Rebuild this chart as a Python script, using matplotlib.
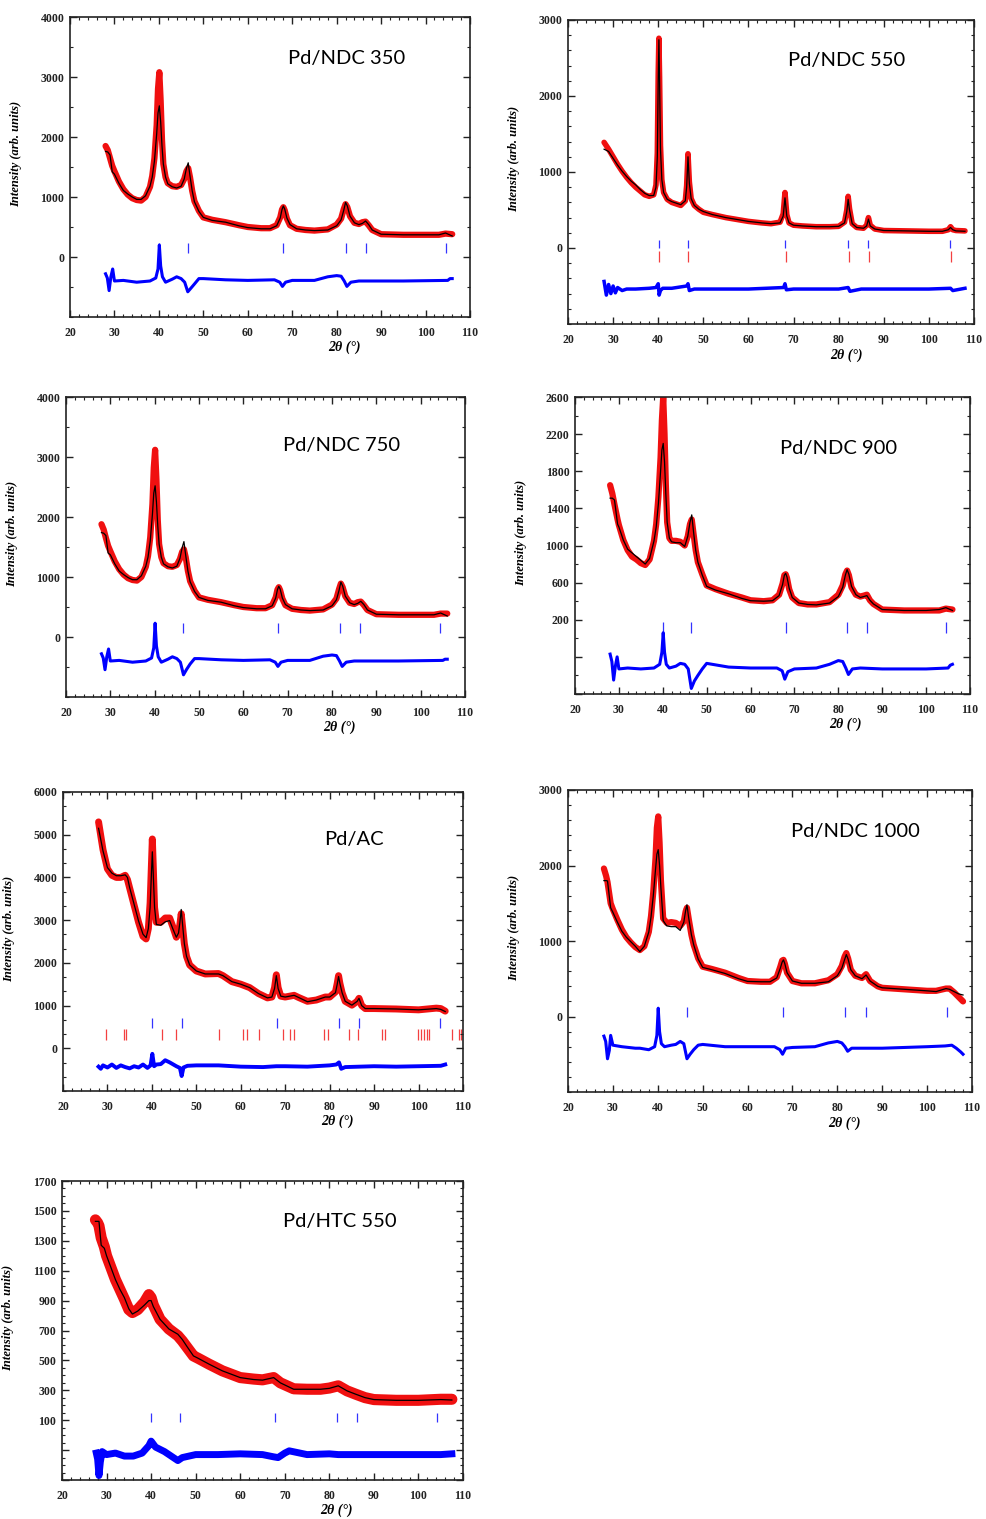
import matplotlib
matplotlib.use('Agg')
import matplotlib.pyplot as plt
from matplotlib.ticker import AutoMinorLocator, MultipleLocator, FuncFormatter

W, H = 986, 1519

# ---- Pd/NDC 350 ----
tt1 = [28, 28.5, 29, 29.5, 30, 31, 32, 33, 34, 35, 36, 37, 38, 38.5, 39, 39.5, 39.8, 40.1, 40.4, 40.7,
       41, 41.5, 42, 43, 44, 45, 45.7, 46.2, 46.6, 47, 47.5, 48, 49, 50, 52, 55, 58, 60, 63, 65,
       66.5, 67.3, 67.7, 68, 68.3, 68.8, 69.5, 71, 73, 75, 78, 80, 81, 81.6, 82, 82.4, 83, 84, 85, 85.8,
       86.5, 87.2, 88, 90, 95, 100, 103, 104.5, 106]
calc1 = [1760, 1750, 1700, 1420, 1380, 1230, 1110, 1050, 1000, 960, 960, 1020, 1180, 1330, 1600,
         2050, 2400, 2520, 2250, 1850, 1550, 1330, 1220, 1170, 1150, 1180, 1300, 1480, 1570, 1350,
         1100, 920, 760, 660, 610, 580, 520, 490, 470, 470, 520, 650, 790, 850, 800, 650, 540, 470, 450, 440,
         450, 520, 620, 780, 910, 850, 680, 570, 540, 560, 600, 540, 450, 380, 370, 370, 370, 400, 350]
obs1 = [1850, 1780, 1650, 1520, 1430, 1260, 1130, 1040, 980, 950, 940, 1000, 1170, 1350, 1650,
        2200, 2800, 3080, 2600, 1950, 1550, 1330, 1230, 1180, 1170, 1200, 1300, 1430, 1480, 1330,
        1100, 930, 770, 660, 620, 580, 530, 500, 480, 480, 530, 660, 790, 830, 780, 640, 530, 470, 450, 440,
        460, 540, 640, 800, 880, 830, 680, 570, 550, 580, 590, 530, 450, 380, 370, 370, 370, 390, 380]
dtt1 = [28, 28.4, 28.8, 29.2, 29.6, 30, 32, 35, 38, 39.3, 39.8, 40.1, 40.4, 40.8, 41.5, 43, 44, 45, 45.8, 46.5,
        47.2, 48, 49, 50, 55, 60, 66, 67.2, 67.8, 68.5, 70, 75, 78, 80, 81, 81.7, 82.3, 83.2, 85, 90,
        95, 100, 105, 105.5, 106]
diff1 = [-280, -350, -560, -330, -200, -400, -390, -420, -400, -350, -200, 200, -150, -330, -420,
         -370, -330, -360, -420, -580, -520, -450, -360, -360, -380, -390, -380, -420, -490, -420,
         -390, -390, -330, -310, -320, -400, -490, -420, -400, -400, -400, -395, -390, -360, -360]
bragg1 = [40.1, 46.5, 67.9, 82.0, 86.5, 104.5]

# ---- Pd/NDC 550 ----
tt2 = [28, 29, 30, 31, 32, 33, 34, 35, 36, 37, 38, 39, 39.5, 39.8, 40.0, 40.15, 40.3, 40.5, 40.8, 41.2,
       42, 43, 44, 45, 46, 46.3, 46.6, 46.9, 47.3, 48, 49, 50, 52, 55, 58, 60, 63, 65, 67, 67.7,
       68.1, 68.5, 69, 70, 72, 75, 78, 80, 81.3, 81.8, 82.1, 82.4, 83, 84, 85.5, 86.2, 86.6, 87, 88, 90,
       95, 100, 103, 104.3, 104.8, 105.3, 106, 108]
calc2 = [1300, 1270, 1180, 1090, 1010, 940, 880, 830, 770, 720, 690, 690, 800, 1200, 2200,
         2740, 2200, 1300, 900, 730, 640, 610, 590, 570, 620, 800, 1200, 850, 650, 560,
         510, 480, 440, 400, 370, 350, 330, 320, 330, 420, 660, 420, 330, 300, 290,
         280, 280, 285, 330, 480, 640, 500, 320, 270, 260, 290, 380, 290, 250, 230,
         225, 220, 220, 240, 270, 240, 225, 220]
obs2 = [1390, 1300, 1200, 1100, 1010, 930, 860, 800, 750, 700, 680, 700, 830, 1250, 2300,
        2760, 2250, 1350, 900, 730, 640, 600, 580, 560, 620, 820, 1240, 870, 650, 560,
        510, 470, 440, 400, 370, 350, 330, 320, 340, 450, 730, 440, 330, 300, 290,
        280, 280, 285, 340, 500, 680, 520, 320, 270, 260, 300, 400, 300, 250, 230,
        225, 220, 220, 240, 280, 240, 230, 225]
dtt2 = [28, 28.5, 29, 29.5, 30, 30.5, 31, 32, 33, 35, 38, 39.5, 40.0, 40.2, 40.5, 41, 43, 46.3, 46.6, 46.9,
        48, 50, 55, 60, 67.8, 68.1, 68.4, 70, 75, 80, 82.1, 82.5, 85, 90, 95, 100, 104.8, 105.3, 108]
diff2 = [-440, -620, -480, -600, -500, -590, -520, -560, -540, -540, -530, -520, -470, -620, -560,
         -530, -530, -500, -470, -560, -540, -540, -540, -540, -520, -470, -550, -540, -540, -540,
         -520, -570, -540, -540, -540, -540, -530, -560, -530]
bragg2 = [40.1, 46.7, 68.2, 82.1, 86.6, 104.7]
bragg2b = [40.2, 46.7, 68.3, 82.3, 86.8, 105.0]

# ---- Pd/NDC 750 ----
tt3 = list(tt1)
calc3 = [1740, 1730, 1690, 1400, 1370, 1220, 1100, 1040, 990, 955, 955, 1020, 1180, 1330, 1600,
         2050, 2400, 2520, 2250, 1850, 1550, 1330, 1220, 1170, 1150, 1180, 1310, 1490, 1590, 1360,
         1100, 920, 760, 660, 610, 580, 520, 490, 470, 470, 520, 650, 790, 845, 800, 650, 540, 470, 450, 440,
         450, 520, 620, 780, 915, 850, 680, 570, 540, 560, 595, 540, 450, 380, 370, 370, 370, 400, 350]
obs3 = [1880, 1790, 1650, 1520, 1430, 1260, 1130, 1040, 980, 950, 940, 1000, 1170, 1350, 1660,
        2220, 2820, 3120, 2620, 1950, 1550, 1330, 1230, 1180, 1170, 1200, 1300, 1420, 1460, 1330,
        1100, 930, 770, 660, 620, 580, 530, 500, 480, 480, 530, 660, 790, 830, 780, 640, 530, 470, 450, 440,
        460, 540, 640, 800, 890, 830, 680, 570, 550, 580, 590, 530, 450, 380, 370, 370, 370, 390, 390]
dtt3 = list(dtt1)
diff3 = [-280, -350, -545, -330, -200, -400, -390, -420, -400, -350, -180, 230, -150, -330, -420,
         -370, -330, -360, -420, -630, -540, -450, -360, -360, -380, -390, -380, -420, -490, -420,
         -390, -390, -320, -300, -310, -400, -490, -420, -400, -400, -400, -395, -390, -370, -370]
bragg3 = [40.0, 46.5, 67.9, 81.9, 86.4, 104.4]

# ---- Pd/NDC 900 ----
tt4 = [28, 28.5, 29, 29.7, 30, 31, 32, 33, 34, 35, 36, 37, 38, 38.5, 39, 39.5, 39.8, 40.1, 40.4, 40.7,
       41, 41.5, 42, 43, 44, 45, 45.7, 46.2, 46.6, 47, 47.5, 48, 49, 50, 52, 55, 58, 60, 63, 65,
       66.5, 67.3, 67.7, 68, 68.3, 68.8, 69.5, 71, 73, 75, 78, 80, 81, 81.6, 82, 82.4, 83, 84, 85, 85.8,
       86.5, 87.2, 88, 90, 95, 100, 103, 104.5, 106]
calc4 = [1510, 1510, 1490, 1230, 1200, 1060, 960, 920, 880, 840, 800, 860, 1050, 1200, 1450,
         1800, 2030, 2100, 1900, 1550, 1250, 1080, 1040, 1030, 1030, 990, 1100, 1250, 1330, 1150,
         950, 820, 680, 560, 520, 480, 430, 405, 400, 405, 460, 580, 680, 700, 660, 540, 440, 380, 365, 360,
         380, 450, 550, 680, 740, 690, 560, 470, 440, 450, 460, 410, 370, 310, 300, 300, 310, 330, 300]
obs4 = [1650, 1560, 1440, 1280, 1220, 1060, 950, 880, 850, 810, 790, 850, 1050, 1230, 1520,
        1950, 2350, 2600, 2200, 1650, 1250, 1080, 1050, 1050, 1040, 1000, 1100, 1230, 1280, 1130,
        950, 820, 690, 570, 530, 480, 440, 410, 400, 410, 470, 590, 680, 690, 650, 530, 440, 380, 365, 365,
        390, 470, 570, 690, 730, 680, 550, 470, 450, 460, 470, 410, 370, 310, 300, 300, 300, 320, 310]
dtt4 = list(dtt1)
diff4 = [-170, -250, -450, -300, -200, -330, -320, -330, -320, -280, -150, 60, -150, -280, -320,
         -300, -270, -280, -330, -540, -460, -400, -330, -270, -310, -320, -320, -350, -440, -360,
         -330, -320, -280, -240, -250, -320, -390, -330, -320, -330, -330, -330, -320, -290, -280]
bragg4 = [40.0, 46.5, 68.0, 82.0, 86.5, 104.5]

# ---- Pd/AC ----
tt5 = [28, 29, 30, 31, 32, 33, 34, 34.5, 35, 36, 37, 38, 38.7, 39.2, 39.6, 39.9, 40.1, 40.3, 40.6, 41,
       42, 43, 44, 44.7, 45.5, 46, 46.3, 46.6, 46.9, 47.3, 47.8, 48.5, 50, 52, 55, 56, 58, 60, 62, 64,
       66, 67, 67.6, 68.0, 68.4, 69, 70, 72, 73, 75, 77, 79, 80, 81.3, 81.7, 82.0, 82.3, 82.8, 83.5, 85,
       86.2, 86.6, 87.2, 88, 90, 95, 100, 104, 105, 106]
calc5 = [5150, 4620, 4230, 4100, 4040, 4040, 4060, 4000, 3760, 3370, 2980, 2670, 2590, 2800, 3300,
         4100, 4600, 4100, 3300, 2900, 2880, 2960, 2990, 2800, 2600, 2700, 2950, 3250, 2900, 2450,
         2150, 1950, 1810, 1740, 1740, 1700, 1560, 1500, 1420, 1280, 1180, 1200, 1400, 1700, 1400,
         1220, 1200, 1240, 1190, 1090, 1130, 1200, 1200, 1300, 1500, 1680, 1520, 1300, 1100, 1010,
         1100, 1170, 1000, 930, 930, 920, 900, 930, 910, 860]
obs5 = [5300, 4650, 4200, 4050, 4000, 4000, 4050, 3950, 3750, 3350, 2950, 2620, 2560, 2800, 3400,
        4300, 4900, 4300, 3300, 2950, 2950, 3050, 3050, 2850, 2600, 2700, 2900, 3150, 2850, 2450,
        2150, 1950, 1810, 1740, 1750, 1700, 1560, 1500, 1420, 1280, 1180, 1200, 1420, 1720, 1420,
        1220, 1200, 1240, 1190, 1100, 1130, 1200, 1200, 1320, 1520, 1700, 1520, 1300, 1100, 1010,
        1100, 1170, 1000, 930, 930, 920, 900, 940, 930, 870]
dtt5 = [28, 28.5, 29, 30, 31, 32, 33, 34, 35, 36, 37, 38, 39, 39.7, 40.1, 40.5, 41, 42, 43, 44,
        45.5, 46.3, 46.7, 47.1, 48, 50, 55, 60, 65, 68, 70, 75, 80, 81.5, 82.1, 82.6, 83.5, 90, 95, 100,
        105, 106]
diff5 = [-430, -480, -400, -450, -380, -460, -400, -440, -470, -420, -450, -380, -460, -400, -130,
         -420, -380, -370, -280, -330, -420, -460, -650, -450, -410, -400, -400, -430, -440, -420,
         -420, -430, -400, -380, -330, -480, -440, -420, -430, -420, -410, -380]
bragg5 = [40.1, 46.7, 68.2, 82.2, 86.7, 104.9]
bragg5b = [29.6, 33.7, 34.1, 42.3, 45.4, 55.2, 60.6, 61.4, 64.1, 69.6, 71.0, 72.0, 78.8, 79.7,
           84.3, 86.3, 91.8, 92.4, 99.9, 100.5, 101.2, 101.8, 102.4, 107.6, 109.1, 109.6]

# ---- Pd/NDC 1000 ----
tt6 = [28, 28.5, 28.8, 29.5, 30, 31, 32, 33, 34, 35, 36, 37, 38, 38.5, 39, 39.5, 39.8, 40.1, 40.4, 40.7,
       41.2, 42, 43, 44, 45, 45.8, 46.2, 46.5, 46.9, 47.5, 48, 49, 50, 52, 55, 58, 60, 63, 65, 66.5,
       67.3, 67.7, 68, 68.3, 68.8, 70, 72, 75, 78, 80, 81, 81.6, 82, 82.4, 83, 84, 85.5, 86.4, 87.3, 89,
       90, 95, 100, 102, 104.2, 105, 106, 107, 108]
calc6 = [1800, 1800, 1795, 1440, 1380, 1250, 1130, 1050, 990, 930, 860, 930, 1120, 1320, 1600,
         1950, 2150, 2210, 2000, 1700, 1270, 1200, 1190, 1190, 1140, 1250, 1400, 1480, 1300, 1080,
         950, 760, 650, 620, 570, 500, 465, 460, 460, 510, 640, 720, 750, 700, 580,
         470, 440, 440, 460, 540, 640, 750, 820, 760, 620, 540, 500, 550, 470, 400,
         380, 360, 340, 330, 370, 360, 330, 300, 285]
obs6 = [1960, 1860, 1780, 1500, 1420, 1280, 1150, 1050, 980, 920, 880, 930, 1120, 1330, 1650,
        2100, 2500, 2650, 2300, 1800, 1300, 1240, 1250, 1240, 1200, 1260, 1390, 1440, 1290, 1080,
        950, 770, 660, 630, 580, 510, 470, 460, 460, 520, 660, 740, 750, 700, 580,
        470, 440, 440, 480, 560, 670, 790, 840, 770, 620, 540, 510, 560, 470, 400,
        380, 360, 340, 340, 370, 370, 320, 260, 200]
dtt6 = [28, 28.4, 28.8, 29.2, 29.5, 30, 32, 35, 36, 38, 39.3, 39.8, 40.1, 40.4, 40.8, 41.5, 43, 44, 45, 45.8,
        46.5, 47.2, 48, 49, 50, 55, 60, 66, 67.2, 67.8, 68.5, 70, 75, 78, 80, 81, 81.7, 82.3, 83.2, 85,
        90, 95, 100, 104, 105.5, 106.5, 107.5, 108]
diff6 = [-260, -330, -560, -450, -250, -380, -400, -420, -420, -440, -400, -250, 110, -200, -360,
         -400, -380, -370, -330, -360, -560, -500, -440, -380, -370, -400, -400, -400, -440, -500,
         -420, -410, -400, -350, -330, -350, -400, -460, -420, -420, -420, -410, -400, -390, -380,
         -420, -470, -500]
bragg6 = [40.0, 46.6, 67.9, 81.8, 86.4, 104.4]

# ---- Pd/HTC 550 ----
tt7 = [27.5, 28, 28.3, 28.8, 29.5, 30, 31, 32, 33, 34, 35, 35.8, 37, 38.5, 39.5, 40, 40.5, 42, 44, 46,
       47, 48, 49.5, 50.5, 53, 56, 60, 63, 65, 67.5, 69, 72, 75, 78, 80, 82, 84, 86, 88, 90,
       95, 100, 105, 107.5]
calc7 = [1430, 1430, 1430, 1270, 1250, 1200, 1120, 1040, 975, 920, 845, 810, 830, 870, 900,
         900, 860, 775, 710, 675, 640, 595, 530, 515, 475, 430, 385, 372, 368, 385,
         350, 307, 307, 307, 313, 330, 296, 273, 251, 238, 233, 233, 238, 235]
obs7 = [1440, 1420, 1400, 1320, 1260, 1200, 1120, 1040, 975, 910, 840, 820, 840, 890, 940,
        920, 870, 775, 710, 665, 630, 590, 530, 515, 475, 430, 385, 375, 370, 385,
        350, 310, 307, 307, 315, 330, 296, 273, 251, 238, 233, 233, 240, 240]
dtt7 = [27.7, 28, 28.3, 28.6, 29, 30, 32, 34, 36, 38, 39.5, 40, 41, 43, 45, 46, 47, 50, 55, 60,
        65, 67.5, 68.5, 70, 71, 75, 80, 82, 85, 90, 95, 100, 105, 107.5]
diff7 = [-120, -160, -270, -180, -110, -130, -120, -140, -140, -120, -70, -40, -80, -110, -150,
         -170, -150, -130, -130, -125, -130, -145, -150, -120, -105, -130, -125, -130, -130, -130,
         -130, -130, -130, -125]
bragg7 = [40.0, 46.5, 67.8, 81.8, 86.2, 104.1]

RED = '#f01010'
BLUE = '#0000ff'
SERIF = 'Liberation Serif'

plt.rcParams['font.family'] = [SERIF, 'DejaVu Serif']
plt.rcParams['font.weight'] = 'bold'

panels = [
    dict(box=(70, 17, 470, 317), title='Pd/NDC 350', tpos=(0.545, 0.863), ylim=(-1000, 4000),
         yticks=range(0, 4001, 1000), minor=2, lab_min=0, tt=tt1, obs=obs1, calc=calc1, dtt=dtt1, diff=diff1,
         bragg=[(bragg1, 60, 240, BLUE)], olw=4.5, dlw=2.2),
    dict(box=(568, 20, 974, 324), title='Pd/NDC 550', tpos=(0.542, 0.868), ylim=(-1000, 3000),
         yticks=range(0, 3001, 1000), minor=5, lab_min=0, tt=tt2, obs=obs2, calc=calc2, dtt=dtt2, diff=diff2,
         bragg=[(bragg2, 0, 110, BLUE), (bragg2b, -180, -40, RED)], olw=4.0, dlw=2.5),
    dict(box=(66, 397, 465, 697), title='Pd/NDC 750', tpos=(0.544, 0.837), ylim=(-1000, 4000),
         yticks=range(0, 4001, 1000), minor=2, lab_min=0, tt=tt3, obs=obs3, calc=calc3, dtt=dtt3, diff=diff3,
         bragg=[(bragg3, 60, 240, BLUE)], olw=4.5, dlw=2.2),
    dict(box=(575, 397, 970, 694), title='Pd/NDC 900', tpos=(0.519, 0.825), ylim=(-600, 2600),
         yticks=range(-600, 2601, 400), minor=2, lab_min=200, tt=tt4, obs=obs4, calc=calc4, dtt=dtt4, diff=diff4,
         bragg=[(bragg4, 60, 180, BLUE)], olw=4.5, dlw=2.2),
    dict(box=(63, 792, 463, 1091), title='Pd/AC', tpos=(0.653, 0.84), ylim=(-1000, 6000),
         yticks=range(0, 6001, 1000), minor=3, lab_min=0, tt=tt5, obs=obs5, calc=calc5, dtt=dtt5, diff=diff5,
         bragg=[(bragg5, 480, 700, BLUE), (bragg5b, 200, 440, RED)], olw=5.0, dlw=2.8),
    dict(box=(568, 790, 972, 1092), title='Pd/NDC 1000', tpos=(0.552, 0.864), ylim=(-1000, 3000),
         yticks=range(0, 3001, 1000), minor=5, lab_min=0, tt=tt6, obs=obs6, calc=calc6, dtt=dtt6, diff=diff6,
         bragg=[(bragg6, 0, 120, BLUE)], olw=4.5, dlw=2.2),
    dict(box=(62, 1181, 463, 1480), title='Pd/HTC 550', tpos=(0.551, 0.866), ylim=(-300, 1700),
         yticks=range(-300, 1701, 200), minor=4, lab_min=100, tt=tt7, obs=obs7, calc=calc7, dtt=dtt7, diff=diff7,
         bragg=[(bragg7, 85, 150, BLUE)], olw=8.0, dlw=5.0),
]


def draw(fig, p):
    l, t, r, b = p['box']
    ax = fig.add_axes([l / W, 1 - b / H, (r - l) / W, (b - t) / H])
    ax.plot(p['tt'], p['obs'], color=RED, lw=p['olw'], solid_joinstyle='round', solid_capstyle='round', zorder=2)
    ax.plot(p['tt'], p['calc'], color='black', lw=0.9, zorder=3)
    ax.plot(p['dtt'], p['diff'], color=BLUE, lw=p['dlw'], zorder=2)
    for pos, y0, y1, c in p['bragg']:
        ax.vlines(pos, y0, y1, colors=c, lw=0.9, alpha=0.8, zorder=1)
    ax.set_xlim(20, 110)
    ax.set_ylim(*p['ylim'])
    ax.set_xticks(range(20, 111, 10))
    ax.xaxis.set_minor_locator(MultipleLocator(2))
    ax.set_yticks(list(p['yticks']))
    ax.yaxis.set_minor_locator(AutoMinorLocator(p['minor']))
    lo = p['lab_min']
    ax.yaxis.set_major_formatter(FuncFormatter(lambda v, pos: '%d' % v if v >= lo else ''))
    ax.tick_params(which='both', direction='in', top=True, right=True, colors='#222222')
    ax.tick_params(which='major', length=5, width=1.0, labelsize=8.5, pad=4)
    ax.tick_params(axis='x', which='major', pad=7)
    ax.tick_params(which='minor', length=2.5, width=0.8)
    for s in ax.spines.values():
        s.set_linewidth(1.2)
        s.set_color('#222222')
    ax.set_ylabel('Intensity (arb. units)', style='italic', fontweight='bold', fontsize=9)
    ax.yaxis.set_label_coords(-48 / (r - l), 0.543)
    ax.set_xlabel('2θ (°)', style='italic', fontweight='bold', fontsize=10, va='center')
    ax.xaxis.set_label_coords(0.685, -0.102)
    ax.text(p['tpos'][0], p['tpos'][1], p['title'], transform=ax.transAxes, family='Lato',
            fontweight='normal', fontsize=14.5, ha='left', va='center')
    return ax


fig = plt.figure(figsize=(W / 100, H / 100), dpi=100)
for p in panels:
    draw(fig, p)
fig.savefig('out.png', dpi=100)
